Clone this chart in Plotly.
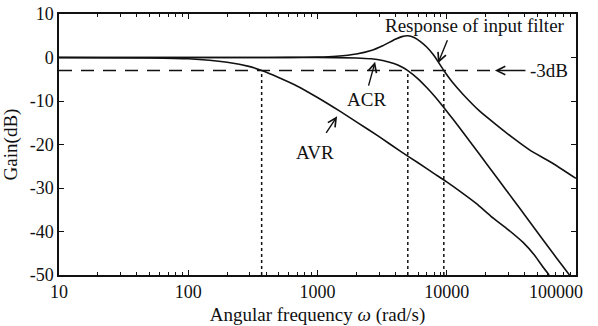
import plotly.graph_objects as go

# ---- data ----
avr_w = [10, 50, 100, 200, 300, 370, 500, 700, 1000, 1500, 2000, 3000, 4400, 6000, 8000,
         10000, 13000, 17000, 22000, 30000, 39000, 48000, 56000, 62000]
avr_g = [0, -0.1, -0.3, -1.1, -2.1, -3.0, -4.6, -6.6, -9.2, -12.4, -14.8, -18.2, -21.6, -24.2, -26.7,
         -28.6, -31.0, -33.6, -36.5, -39.6, -42.5, -45.5, -48.3, -50.0]

acr_w = [10, 100, 1000, 2000, 2600, 3200, 3900, 4500, 5000, 6000, 7000, 8000, 9500, 11200,
         14000, 18000, 25000, 33000, 42000, 55000, 70000, 87000, 90000]
acr_g = [0, 0, 0, -0.1, -0.3, -0.7, -1.4, -2.2, -3.0, -4.9, -6.9, -8.8, -11.5, -14.2,
         -18.0, -22.3, -28.0, -32.8, -37.0, -41.7, -45.9, -49.6, -50.2]

filt_w = [10, 300, 600, 1000, 1400, 2000, 2600, 3200, 4000, 4500, 5000, 5600, 6300, 7000, 7800,
          8600, 9500, 11000, 13400, 18100, 24500, 32600, 44000, 66000, 100000]
filt_g = [0, 0, 0.03, 0.1, 0.3, 0.8, 1.6, 2.7, 4.2, 4.8, 5.0, 4.6, 3.6, 2.4, 0.8,
          -1.0, -3.0, -5.6, -8.5, -12.4, -15.6, -18.5, -21.3, -24.3, -27.8]

cutoff_w = [370, 5000, 9500]          # -3 dB crossing frequencies
minus3 = -3
x_ticks = [10, 100, 1000, 10000, 100000]
x_ticktext = ["10", "100", "1000", "10000", ""]
last_tick_label = "100000"            # drawn slightly left of its tick, as in the reference
y_ticks = [10, 0, -10, -20, -30, -40, -50]
y_ticktext = ["10", "0", "-10", "-20", "-30", "-40", "-50"]

FONT = "Liberation Serif, Times New Roman, serif"
BLACK = "#111111"

fig = go.Figure()

for w, g in [(avr_w, avr_g), (acr_w, acr_g), (filt_w, filt_g)]:
    fig.add_trace(go.Scatter(x=w, y=g, mode="lines", line=dict(color=BLACK, width=1.6, shape="spline", smoothing=0.5),
                             showlegend=False, hoverinfo="skip"))

# -3 dB dashed line
fig.add_trace(go.Scatter(x=[10, 23000], y=[minus3, minus3], mode="lines",
                         line=dict(color=BLACK, width=1.5, dash="13px,9px"), showlegend=False, hoverinfo="skip"))
# dotted verticals
for wc in cutoff_w:
    fig.add_trace(go.Scatter(x=[wc, wc], y=[-50, minus3], mode="lines",
                             line=dict(color=BLACK, width=1.5, dash="dot"), showlegend=False, hoverinfo="skip"))

ann_font = dict(family=FONT, size=19, color=BLACK)
annotations = [
    dict(x=4.219, y=7.3, text="Response of input filter", showarrow=False, font=ann_font),
    dict(x=4.628, y=-3.0, text="-3dB", showarrow=False, xanchor="left", font=ann_font),
    dict(x=3.376, y=-9.6, text="ACR", showarrow=False, font=ann_font),
    dict(x=2.982, y=-21.8, text="AVR", showarrow=False, font=ann_font),
    dict(x=4.845, xref="x", y=0, yref="paper", yanchor="top", yshift=-5, text=last_tick_label,
         showarrow=False, font=dict(family=FONT, size=18, color=BLACK)),
]
arrows = [
    ((4.010, 4.3), (3.933, -1.3)),
    ((3.392, -6.8), (3.446, -1.0)),
    ((3.060, -17.7), (3.152, -13.5)),
    ((4.621, -3.0), (4.373, -3.0)),
]
for (tx, ty), (hx, hy) in arrows:
    annotations.append(dict(x=hx, y=hy, ax=tx, ay=ty, axref="x", ayref="y", xref="x", yref="y",
                            text="", showarrow=True, arrowhead=5, arrowsize=1.2, arrowwidth=1.4,
                            arrowcolor=BLACK))

fig.update_layout(
    width=598, height=326,
    margin=dict(l=59, r=22, t=14, b=51),
    paper_bgcolor="white", plot_bgcolor="white",
    font=dict(family=FONT, size=18, color=BLACK),
    annotations=annotations,
    xaxis=dict(type="log", range=[1, 5.0005], tickvals=x_ticks, ticktext=x_ticktext,
               ticks="inside", ticklen=5, tickcolor=BLACK, showgrid=False, zeroline=False,
               showline=True, linecolor=BLACK, linewidth=1.5, mirror="ticks",
               minor=dict(ticks="inside", ticklen=3, dtick="D1", tickcolor=BLACK, showgrid=False),
               tickfont=dict(size=18), automargin=False,
               title=dict(text="Angular frequency <i>ω</i> (rad/s)", font=dict(size=19), standoff=10)),
    yaxis=dict(range=[-50, 10], tickvals=y_ticks, ticktext=y_ticktext,
               ticks="inside", ticklen=5, tickcolor=BLACK, showgrid=False, zeroline=False,
               showline=True, linecolor=BLACK, linewidth=1.5, mirror="ticks",
               tickfont=dict(size=18), automargin=False,
               title=dict(text="Gain(dB)", font=dict(size=19), standoff=8)),
)

fig.write_html("out.html")
